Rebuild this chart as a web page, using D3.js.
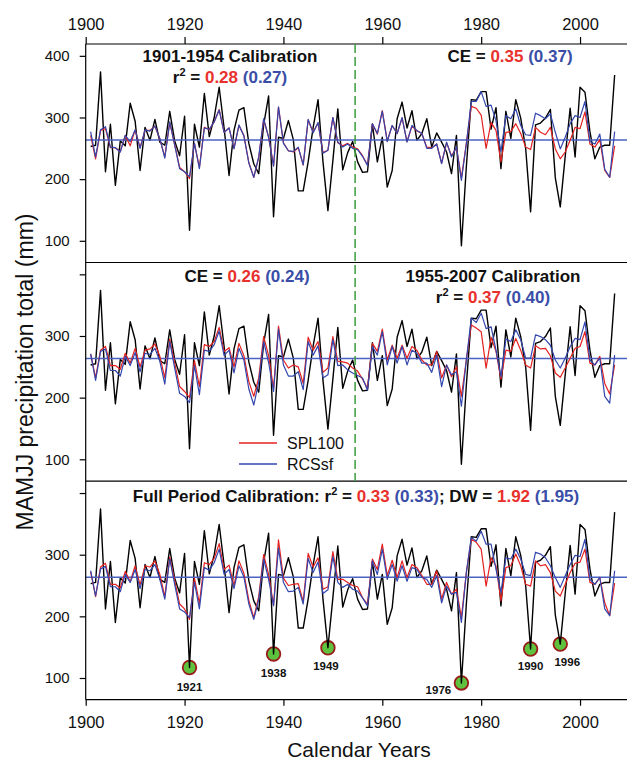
<!DOCTYPE html>
<html><head><meta charset="utf-8">
<script src="https://cdn.jsdelivr.net/npm/d3@7"></script>
<style>
body{margin:0;background:#fff}
svg{display:block}
text{font-family:"Liberation Sans",Arial,Helvetica,sans-serif}
</style>
</head><body>
<svg id="chart" width="627" height="760"></svg>
<script>
// ---------------- data ----------------
const startYear = 1901;
// observed MAMJJ precipitation (black line)
const observed = [
 253,255,374,212,289,190,262,254,323,294,
 214,284,263,297,260,255,310,262,238,302,
 117,289,252,339,269,300,349,283,206,279,
 312,316,258,225,209,288,335,139,268,266,
 295,264,181,181,228,283,329,228,149,230,
 314,215,243,261,228,211,212,289,228,268,
 187,214,298,325,283,311,263,274,298,252,
 275,260,244,209,271,92,220,329,328,342,
 342,281,316,217,310,266,329,299,250,147,
 288,291,299,313,202,155,237,315,236,349,
 341,277,233,252,255,255,369];
// panel 1: 1901-1954 calibration
const spl100_cal1 = [
 271,233,279,282,251,251,245,271,254,280,
 251,279,279,286,265,236,292,256,219,212,
 201,258,219,284,280,293,313,276,283,250,
 287,271,227,203,235,297,268,222,317,259,
 246,244,251,223,296,276,291,243,247,300,
 259,254,258,252,249,238,223,290,273,311,
 262,287,274,299,261,286,278,274,252,251,
 257,226,259,238,251,202,258,318,315,304,
 250,292,279,228,276,277,290,274,252,248,
 284,276,272,284,249,233,244,263,284,282,
 309,257,252,264,214,203,254];
const rcssf_cal1 = [
 277,236,280,285,252,251,244,271,261,280,
 250,280,278,286,266,234,293,255,217,212,
 204,258,217,283,281,293,312,276,283,249,
 288,270,226,203,236,298,268,221,317,258,
 246,245,252,223,297,275,292,242,247,300,
 260,252,257,250,248,237,222,290,274,310,
 261,287,274,300,260,287,279,274,250,250,
 257,225,260,236,252,198,257,326,326,342,
 318,320,295,244,303,298,314,287,272,271,
 307,303,298,306,276,249,268,290,303,300,
 326,261,257,273,216,203,277];
// panel 2: 1955-2007 calibration
const spl100_cal2 = [
 271,232,277,283,252,252,246,272,256,280,
 250,277,279,287,267,232,295,256,218,210,
 200,260,218,286,283,291,314,275,281,250,
 288,268,226,202,232,299,268,215,316,261,
 248,253,250,223,298,277,291,241,248,299,
 259,258,256,248,243,230,215,288,275,311,
 261,285,264,285,264,283,277,261,253,253,
 275,232,253,234,250,202,261,318,313,307,
 248,298,275,230,277,275,296,277,253,248,
 284,279,280,268,240,233,248,264,280,283,
 307,256,253,267,223,206,253];
const rcssf_cal2 = [
 271,228,275,279,244,244,235,267,252,273,
 242,272,270,280,259,222,291,248,207,202,
 192,252,205,277,275,286,308,268,277,240,
 280,261,214,188,225,291,257,210,311,253,
 235,235,242,213,291,269,284,232,237,294,
 252,253,245,240,236,232,212,283,269,307,
 253,283,256,283,253,277,272,256,256,241,
 269,218,253,237,242,186,261,329,322,337,
 312,315,277,234,295,291,310,294,264,264,
 302,299,294,285,261,248,264,283,296,294,
 323,261,253,264,202,191,269];
// panel 3: full period calibration
const spl100_full = [
 272,232,280,286,252,252,246,273,256,282,
 251,282,280,290,268,232,296,258,220,212,
 195,262,221,287,284,294,318,276,283,250,
 290,270,226,198,232,300,268,218,324,262,
 250,252,253,224,302,280,295,244,248,305,
 260,260,255,250,248,230,220,293,276,317,
 266,291,263,290,263,284,279,266,252,252,
 274,228,255,236,244,198,271,325,320,309,
 249,295,282,225,279,282,301,282,252,249,
 290,282,284,271,241,233,252,271,286,288,
 309,255,252,263,222,201,254];
const rcssf_full = [
 274,233,277,281,248,248,240,268,255,276,
 245,276,274,284,260,228,293,252,212,207,
 198,255,212,279,275,287,309,268,276,245,
 282,264,220,195,227,293,260,217,311,255,
 240,241,247,220,294,271,288,237,243,297,
 255,247,252,244,241,230,217,290,268,309,
 260,284,257,282,257,279,276,263,260,247,
 266,222,249,236,239,190,271,328,322,338,
 317,317,276,239,295,293,309,293,268,266,
 304,301,295,282,263,247,266,284,299,297,
 325,260,252,263,212,201,274];
const meanValue = 263.5;
const splitYear = 1954.5;
const xTicks = [1900,1920,1940,1960,1980,2000];
const yTicks = [100,200,300,400];
const droughtYears = [1921,1938,1949,1976,1990,1996];
const years = observed.map((d,i)=>startYear+i);

// ---------------- layout ----------------
const C = {black:"#000", red:"#e3221f", blue:"#3346ad", mean:"#4a62c2",
           tred:"#e8312c", tblue:"#3a4ea8", green:"#3a9c3a", fill:"#5fc23f", ring:"#9a1b1b"};
const svg = d3.select("#chart");
const left = 85.7, right = 627;
const x = d3.scaleLinear().domain([1900, 2009.5]).range([left, right]);
const panelH = 218.5;
const panels = [
  {top:44,    red:spl100_cal1, blue:rcssf_cal1, labels:[100,200,300,400]},
  {top:262.5, red:spl100_cal2, blue:rcssf_cal2, labels:[100,200,300]},
  {top:481.2, red:spl100_full, blue:rcssf_full, labels:[100,200,300], markers:true}
];
const bottom = panels[2].top + panelH;
const labelOff = {1921:[0,23],1938:[0,23],1949:[-2,22],1976:[-23,11],1990:[0,21],1996:[7,22]};

panels.forEach((p,pi)=>{
  const y = d3.scaleLinear().domain([64.8, 419.2]).range([p.top+panelH, p.top]);
  p.y = y;
  const g = svg.append("g");
  // y axis
  const ax = g.append("g").attr("transform",`translate(${left},0)`)
    .call(d3.axisLeft(y).tickValues(yTicks).tickSize(6).tickPadding(10)
      .tickFormat(d=>p.labels.includes(d)? d : ""));
  ax.select(".domain").remove();
  ax.selectAll("line").attr("stroke","#000").attr("stroke-width",1.2);
  ax.selectAll("text").attr("font-size",15).attr("fill","#111").attr("font-family",'"Liberation Sans",Arial,sans-serif');

  // drought markers (drawn beneath the observed line)
  if(p.markers){
    droughtYears.forEach(yr=>{
      const v = observed[yr-startYear];
      const cx = x(yr), cy = y(v);
      g.append("circle").attr("cx",cx).attr("cy",cy).attr("r",6.8)
        .attr("fill",C.fill).attr("stroke",C.ring).attr("stroke-width",1.8);
      const o = labelOff[yr];
      g.append("text").attr("x",cx+o[0]).attr("y",cy+o[1]).attr("text-anchor","middle")
        .attr("font-size",11.5).attr("font-weight","bold").attr("fill","#111").text(yr);
    });
  }

  const line = d3.line().x((d,i)=>x(years[i])).y(d=>y(d));
  g.append("path").datum(observed).attr("d",line).attr("fill","none")
    .attr("stroke",C.black).attr("stroke-width",1.4).attr("stroke-linejoin","round");
  g.append("line").attr("x1",left).attr("x2",right).attr("y1",y(meanValue)).attr("y2",y(meanValue))
    .attr("stroke",C.mean).attr("stroke-width",1.5);
  g.append("path").datum(p.red).attr("d",line).attr("fill","none")
    .attr("stroke",C.red).attr("stroke-width",1.2).attr("stroke-linejoin","round");
  g.append("path").datum(p.blue).attr("d",line).attr("fill","none")
    .attr("stroke",C.blue).attr("stroke-width",1.2).attr("stroke-linejoin","round");
  // panel top border
  g.append("line").attr("x1",left).attr("x2",right).attr("y1",p.top).attr("y2",p.top)
    .attr("stroke","#000").attr("stroke-width",1.2);
});

// bottom border & left axis line
svg.append("line").attr("x1",left).attr("x2",right).attr("y1",bottom).attr("y2",bottom)
  .attr("stroke","#000").attr("stroke-width",1.2);
svg.append("line").attr("x1",left).attr("x2",left).attr("y1",panels[0].top).attr("y2",bottom)
  .attr("stroke","#000").attr("stroke-width",1.2);

// split line (dashed green)
svg.append("line").attr("x1",x(splitYear)).attr("x2",x(splitYear))
  .attr("y1",panels[0].top).attr("y2",panels[2].top)
  .attr("stroke",C.green).attr("stroke-width",1.5).attr("stroke-dasharray","9,4");

// top & bottom x axes
const topAx = svg.append("g").attr("transform",`translate(0,${panels[0].top})`)
  .call(d3.axisTop(x).tickValues(xTicks).tickSize(7).tickPadding(7).tickFormat(d3.format("d")));
const botAx = svg.append("g").attr("transform",`translate(0,${bottom})`)
  .call(d3.axisBottom(x).tickValues(xTicks).tickSize(6).tickPadding(11).tickFormat(d3.format("d")));
[topAx,botAx].forEach(a=>{
  a.select(".domain").remove();
  a.selectAll("line").attr("stroke","#000").attr("stroke-width",1.2);
  a.selectAll("text").attr("font-size",16.5).attr("fill","#111").attr("font-family",'"Liberation Sans",Arial,sans-serif');
});

// axis titles
svg.append("text").attr("x",359).attr("y",757).attr("text-anchor","middle")
  .attr("font-size",21).attr("fill","#111").text("Calendar Years");
svg.append("text").attr("transform","translate(33,372) rotate(-90)").attr("text-anchor","middle")
  .attr("font-size",23).attr("fill","#111").text("MAMJJ precipitation total (mm)");

// annotation helper
function rich(xp, yp, parts){
  const t = svg.append("text").attr("x",xp).attr("y",yp).attr("text-anchor","middle")
    .attr("font-size",17).attr("font-weight","bold").attr("fill","#111");
  parts.forEach(pt=>{
    const s = t.append("tspan").text(pt.t);
    if(pt.c) s.attr("fill",pt.c);
    if(pt.sup) s.attr("font-size",11).attr("dy",-7);
    if(pt.down) s.attr("dy",7);
  });
}
const R = C.tred, B = C.tblue;
rich(230,62,[{t:"1901-1954 Calibration"}]);
rich(230,83,[{t:"r"},{t:"2",sup:true},{t:" = ",down:true},{t:"0.28",c:R},{t:" "},{t:"(0.27)",c:B}]);
rich(510,62,[{t:"CE = "},{t:"0.35",c:R},{t:" "},{t:"(0.37)",c:B}]);
rich(247,282,[{t:"CE = "},{t:"0.26",c:R},{t:" "},{t:"(0.24)",c:B}]);
rich(493,282,[{t:"1955-2007 Calibration"}]);
rich(493,303,[{t:"r"},{t:"2",sup:true},{t:" = ",down:true},{t:"0.37",c:R},{t:" "},{t:"(0.40)",c:B}]);
rich(356,502,[{t:"Full Period Calibration: r"},{t:"2",sup:true},{t:" = ",down:true},{t:"0.33",c:R},{t:" "},{t:"(0.33)",c:B},
  {t:"; DW = "},{t:"1.92",c:R},{t:" "},{t:"(1.95)",c:B}]);

// legend
const leg = [{name:"SPL100", c:C.red, y:443},{name:"RCSsf", c:C.blue, y:464}];
leg.forEach(l=>{
  svg.append("line").attr("x1",239).attr("x2",277).attr("y1",l.y).attr("y2",l.y)
    .attr("stroke",l.c).attr("stroke-width",1.3);
  svg.append("text").attr("x",287).attr("y",l.y+5.5).attr("font-size",16).attr("fill","#111").text(l.name);
});
</script>
</body></html>
